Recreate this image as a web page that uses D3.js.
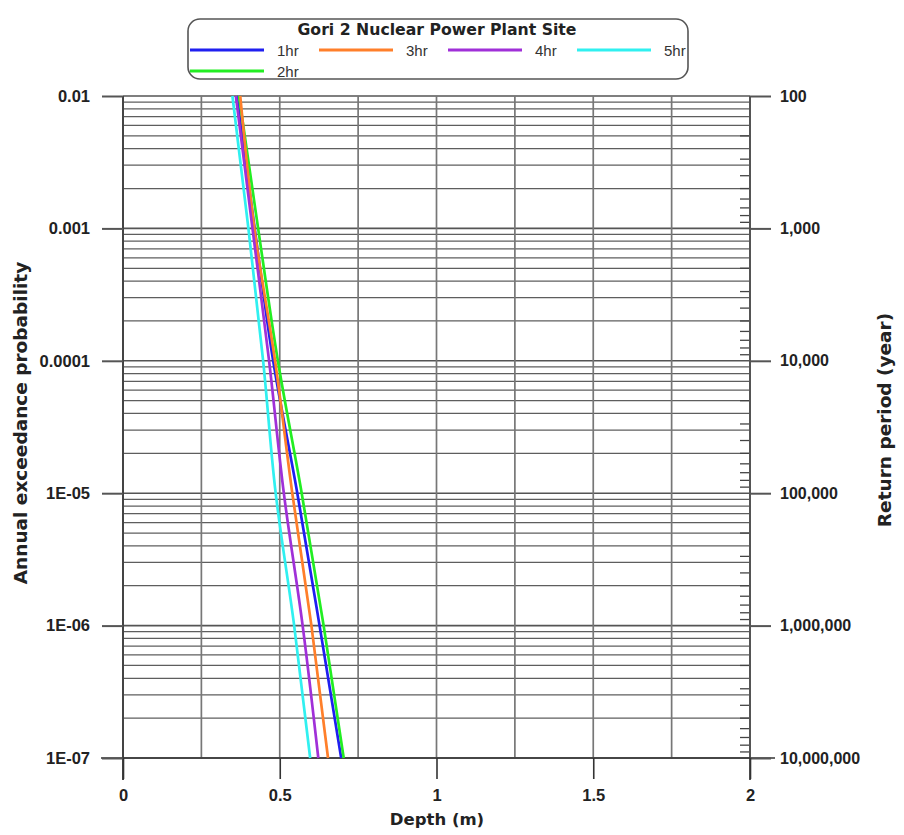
<!DOCTYPE html>
<html>
<head>
<meta charset="utf-8">
<script src="https://cdn.jsdelivr.net/npm/d3@7"></script>
<style>
  html, body { margin: 0; padding: 0; background: #fff; }
  svg { display: block; }
</style>
</head>
<body>
<svg id="chart" width="904" height="835"></svg>
<script>
// ---------------- DATA ----------------
const chartTitle = "Gori 2 Nuclear Power Plant Site";
const probLevels = [1e-2, 1e-3, 1e-4, 1e-5, 1e-6, 1e-7];
const seriesNames = ["1hr", "2hr", "3hr", "4hr", "5hr"];
const depth1hr = [0.363, 0.420, 0.479, 0.556, 0.627, 0.696];
const depth2hr = [0.370, 0.431, 0.494, 0.570, 0.640, 0.704];
const depth3hr = [0.374, 0.419, 0.485, 0.540, 0.601, 0.654];
const depth4hr = [0.360, 0.413, 0.466, 0.513, 0.573, 0.623];
const depth5hr = [0.349, 0.400, 0.447, 0.487, 0.546, 0.597];
const seriesColors = ["#1f1ff0", "#22ee22", "#ff7f2a", "#a030d8", "#30f0f0"];
const xTicks = [0, 0.5, 1, 1.5, 2];
const xTickLabels = ["0", "0.5", "1", "1.5", "2"];
const xGrid = [0.25, 0.5, 0.75, 1, 1.25, 1.5, 1.75, 2];
const yTickLabels = ["0.01", "0.001", "0.0001", "1E-05", "1E-06", "1E-07"];
const returnPeriods = [1e2, 1e3, 1e4, 1e5, 1e6, 1e7];
const returnLabels = ["100", "1,000", "10,000", "100,000", "1,000,000", "10,000,000"];
const legendRow1 = ["1hr", "3hr", "4hr", "5hr"];
const legendRow2 = ["2hr"];

// ---------------- SETUP ----------------
const svg = d3.select("#chart");
const x = d3.scaleLinear().domain([0, 2]).range([123, 750]);
const y = d3.scaleLog().domain([1e-2, 1e-7]).range([96, 758]);
const yRet = d3.scaleLog().domain([1e2, 1e7]).range([96, 758]);

const seriesDepths = [depth1hr, depth2hr, depth3hr, depth4hr, depth5hr];
const series = seriesNames.map((n, i) => ({
  name: n, color: seriesColors[i],
  pts: probLevels.map((p, j) => ({ p, d: seriesDepths[i][j] }))
}));

// minor gridlines (probability)
const minorProbs = [];
for (let e = -7; e < -2; e++) {
  for (let k = 2; k <= 9; k++) minorProbs.push(k * Math.pow(10, e));
}
const gGrid = svg.append("g");
gGrid.selectAll("line.hminor").data(minorProbs).join("line")
  .attr("x1", x(0)).attr("x2", x(2))
  .attr("y1", d => y(d)).attr("y2", d => y(d))
  .attr("stroke", "#5e5e5e").attr("stroke-width", 1.25);
gGrid.selectAll("line.hmajor").data(probLevels).join("line")
  .attr("x1", x(0)).attr("x2", x(2))
  .attr("y1", d => y(d)).attr("y2", d => y(d))
  .attr("stroke", "#555").attr("stroke-width", 1.6);
gGrid.selectAll("line.v").data(xGrid).join("line")
  .attr("x1", d => x(d)).attr("x2", d => x(d))
  .attr("y1", y(1e-2)).attr("y2", y(1e-7))
  .attr("stroke", "#777").attr("stroke-width", 1.7);

// right axis minor ticks (return period)
const minorRet = [];
for (let e = 2; e < 7; e++) {
  for (let k = 2; k <= 9; k++) minorRet.push(k * Math.pow(10, e));
}
svg.append("g").selectAll("line").data(minorRet).join("line")
  .attr("x1", x(2) - 10).attr("x2", x(2))
  .attr("y1", d => yRet(d)).attr("y2", d => yRet(d))
  .attr("stroke", "#444").attr("stroke-width", 1.3);

// Axis lines
svg.append("line").attr("x1", x(0)).attr("x2", x(0)).attr("y1", y(1e-2)).attr("y2", y(1e-7) + 22)
  .attr("stroke", "#444").attr("stroke-width", 2);
svg.append("line").attr("x1", x(2)).attr("x2", x(2)).attr("y1", y(1e-2)).attr("y2", y(1e-7) + 22)
  .attr("stroke", "#555").attr("stroke-width", 2);
svg.append("line").attr("x1", x(0) - 22).attr("x2", x(2) + 25).attr("y1", y(1e-7)).attr("y2", y(1e-7))
  .attr("stroke", "#333").attr("stroke-width", 1.6);

// left axis
const leftAxis = d3.axisLeft(y).tickValues(probLevels)
  .tickFormat((d, i) => yTickLabels[i]).tickSize(21).tickPadding(12);
const gL = svg.append("g").attr("transform", `translate(${x(0)},0)`).call(leftAxis);
gL.select(".domain").remove();
gL.selectAll(".tick line").attr("stroke", "#555").attr("stroke-width", 2);
gL.selectAll(".tick text").attr("font-family", "'Liberation Sans', Arial, sans-serif")
  .attr("font-size", 16.5).attr("font-weight", "bold").attr("fill", "#222");

// right axis
const rightAxis = d3.axisRight(yRet).tickValues(returnPeriods)
  .tickFormat((d, i) => returnLabels[i]).tickSize(21).tickPadding(9);
const gR = svg.append("g").attr("transform", `translate(${x(2)},0)`).call(rightAxis);
gR.select(".domain").remove();
gR.selectAll(".tick line").attr("stroke", "#555").attr("stroke-width", 2);
gR.selectAll(".tick text").attr("font-family", "'Liberation Sans', Arial, sans-serif")
  .attr("font-size", 16).attr("font-weight", "bold").attr("fill", "#222");

// bottom axis
const bottomAxis = d3.axisBottom(x).tickValues(xTicks)
  .tickFormat((d, i) => xTickLabels[i]).tickSize(21).tickPadding(10);
const gB = svg.append("g").attr("transform", `translate(0,${y(1e-7)})`).call(bottomAxis);
gB.select(".domain").remove();
gB.selectAll(".tick line").attr("stroke", "#333").attr("stroke-width", 1.6);
gB.selectAll(".tick text").attr("font-family", "'Liberation Sans', Arial, sans-serif")
  .attr("font-size", 16.5).attr("font-weight", "bold").attr("fill", "#222");

// curves
const line = d3.line().x(d => x(d.d)).y(d => y(d.p)).curve(d3.curveMonotoneY);
svg.append("g").selectAll("path").data(series).join("path")
  .attr("d", d => line(d.pts))
  .attr("fill", "none").attr("stroke", d => d.color).attr("stroke-width", 2.7);

// axis titles
const titleFont = "'DejaVu Sans', Verdana, sans-serif";
svg.append("text").attr("transform", "translate(27,423) rotate(-90)")
  .attr("text-anchor", "middle").attr("font-family", titleFont).attr("font-size", 18.5)
  .attr("font-weight", "bold").attr("fill", "#222").text("Annual exceedance probability");
svg.append("text").attr("transform", "translate(891,420) rotate(-90)")
  .attr("text-anchor", "middle").attr("font-family", titleFont).attr("font-size", 18.5)
  .attr("font-weight", "bold").attr("fill", "#222").text("Return period (year)");
svg.append("text").attr("x", 437).attr("y", 825)
  .attr("text-anchor", "middle").attr("font-family", titleFont).attr("font-size", 16.5)
  .attr("font-weight", "bold").attr("fill", "#222").text("Depth (m)");

// legend
const lg = svg.append("g");
lg.append("rect").attr("x", 188).attr("y", 19).attr("width", 500).attr("height", 60)
  .attr("rx", 12).attr("ry", 12).attr("fill", "#fff").attr("stroke", "#555").attr("stroke-width", 1.6);
lg.append("text").attr("x", 437).attr("y", 35).attr("text-anchor", "middle")
  .attr("font-family", titleFont).attr("font-size", 15.7).attr("font-weight", "bold")
  .attr("fill", "#222").text(chartTitle);
const colorOf = n => seriesColors[seriesNames.indexOf(n)];
const rowItems = [
  ...legendRow1.map((n, i) => ({ n, col: i, row: 0 })),
  ...legendRow2.map((n, i) => ({ n, col: i, row: 1 }))
];
const colX = d3.scaleLinear().domain([0, 1]).range([190, 319]);
const item = lg.selectAll("g.item").data(rowItems).join("g")
  .attr("transform", d => `translate(${colX(d.col)},${d.row === 0 ? 50 : 71})`);
item.append("line").attr("x1", 0).attr("x2", 74).attr("y1", 0).attr("y2", 0)
  .attr("stroke", d => colorOf(d.n)).attr("stroke-width", 2.8);
item.append("text").attr("x", 87).attr("y", 5.5)
  .attr("font-family", "'Liberation Sans', Arial, sans-serif").attr("font-size", 15)
  .attr("fill", "#333").text(d => d.n);
</script>
</body>
</html>
